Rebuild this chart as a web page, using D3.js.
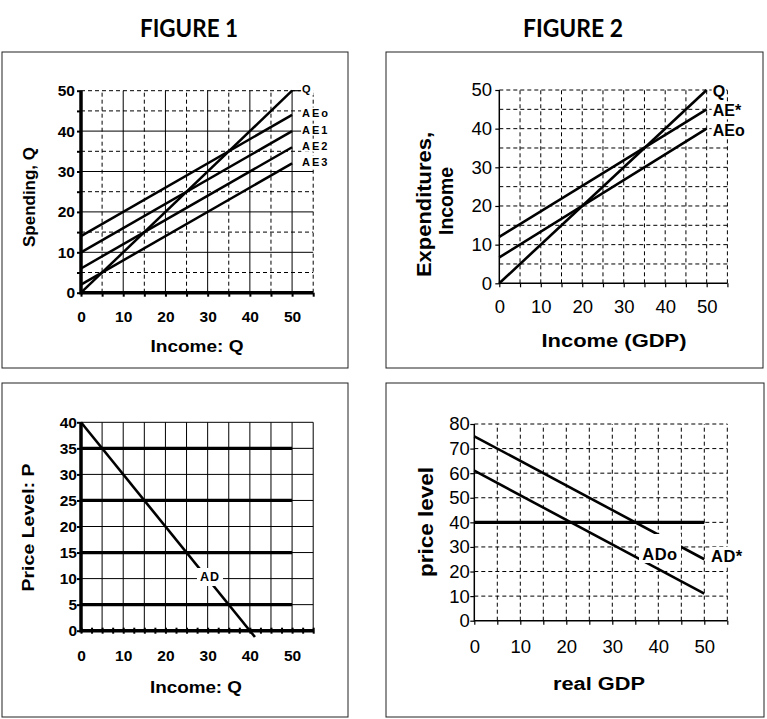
<!DOCTYPE html>
<html><head><meta charset="utf-8">
<script src="https://cdn.jsdelivr.net/npm/d3@7"></script>
<style>
body{margin:0;background:#fff}
svg{display:block}
</style></head><body>
<svg id="c" width="767" height="719"></svg>
<script>
// ---------- DATA ----------
const fig1Names = ["Q", "AEo", "AE1", "AE2", "AE3"];
const fig1AtZero = [0, 14, 10, 6, 2];
const fig1AtFifty = [50, 44, 40, 36, 32];
const fig1XTicks = [0, 10, 20, 30, 40, 50];
const fig1YTicks = [0, 10, 20, 30, 40, 50];

const fig2Names = ["Q", "AE*", "AEo"];
const fig2AtZero = [0, 12, 6.7];
const fig2AtFifty = [50, 45, 40];
const fig2XTicks = [0, 10, 20, 30, 40, 50];
const fig2YTicks = [0, 10, 20, 30, 40, 50];

const fig3AdX = [0, 41.2];
const fig3AdY = [40, -1.2];
const fig3PriceLevels = [35, 25, 15, 5];
const fig3XTicks = [0, 10, 20, 30, 40, 50];
const fig3YTicks = [0, 5, 10, 15, 20, 25, 30, 35, 40];

const fig4Names = ["AD*", "ADo"];
const fig4AtZero = [75, 61];
const fig4AtFifty = [25, 11];
const fig4PriceLevel = [40];
const fig4XTicks = [0, 10, 20, 30, 40, 50];
const fig4YTicks = [0, 10, 20, 30, 40, 50, 60, 70, 80];

// ---------- DRAWING ----------
const FONT = "'Liberation Sans', Arial, sans-serif";
const svg = d3.select("#c");
svg.append("rect").attr("width", 767).attr("height", 719).attr("fill", "#fff");

function range(a, b, s) { const r = []; for (let v = a; v <= b + 1e-9; v += s) r.push(+v.toFixed(3)); return r; }

function panel(o) {
  const g = svg.append("g");
  g.append("rect").attr("x", o.box[0]).attr("y", o.box[1]).attr("width", o.box[2]).attr("height", o.box[3])
    .attr("fill", "none").attr("stroke", "#222").attr("stroke-width", 1);
  const x = d3.scaleLinear().domain([0, 55]).range(o.xr);
  const y = d3.scaleLinear().domain([0, o.ymax]).range(o.yr);
  const grid = g.append("g");
  o.vgrid.forEach(([vals, dashed]) => vals.forEach(v => grid.append("line")
    .attr("x1", x(v)).attr("x2", x(v)).attr("y1", y(0)).attr("y2", y(o.ymax))
    .attr("stroke", "#000").attr("stroke-width", 1).attr("stroke-dasharray", dashed ? "4,3" : null)));
  o.hgrid.forEach(([vals, dashed]) => vals.forEach(v => grid.append("line")
    .attr("x1", x(0)).attr("x2", x(55)).attr("y1", y(v)).attr("y2", y(v))
    .attr("stroke", "#000").attr("stroke-width", 1).attr("stroke-dasharray", dashed ? "4,3" : null)));

  const xt = g.append("g").attr("transform", `translate(0,${y(0) - (o.xCross ? o.xTickLen : 0)})`)
    .call(d3.axisBottom(x).tickValues(o.xMinor).tickSize(o.xCross ? o.xTickLen * 2 : o.xTickLen).tickSizeOuter(0).tickFormat(""));
  xt.select(".domain").remove();
  xt.selectAll("line").attr("stroke", "#000").attr("stroke-width", o.tickW);
  const yt = g.append("g").attr("transform", `translate(${x(0)},0)`)
    .call(d3.axisLeft(y).tickValues(o.yMinor).tickSize(o.yTickLen).tickSizeOuter(0).tickFormat(""));
  yt.select(".domain").remove();
  yt.selectAll("line").attr("stroke", "#000").attr("stroke-width", o.tickW);

  g.append("line").attr("x1", x(0)).attr("x2", x(55)).attr("y1", y(0)).attr("y2", y(0)).attr("stroke", "#000").attr("stroke-width", o.axisW);
  g.append("line").attr("x1", x(0)).attr("x2", x(0)).attr("y1", y(0) + o.axisW / 2).attr("y2", y(o.ymax)).attr("stroke", "#000").attr("stroke-width", o.axisW);

  const xl = g.append("g").attr("transform", `translate(0,${y(0)})`)
    .call(d3.axisBottom(x).tickValues(o.xTicks).tickSize(0).tickPadding(o.xPad));
  xl.select(".domain").remove();
  xl.attr("font-family", FONT).attr("font-size", o.tickFS).attr("font-weight", o.tickFW);
  xl.selectAll("text").attr("fill", "#000");
  const yl = g.append("g").attr("transform", `translate(${x(0)},0)`)
    .call(d3.axisLeft(y).tickValues(o.yTicks).tickSize(0).tickPadding(o.yPad));
  yl.select(".domain").remove();
  yl.attr("font-family", FONT).attr("font-size", o.tickFS).attr("font-weight", o.tickFW);
  yl.selectAll("text").attr("fill", "#000");
  return { g, x, y };
}

function title(txt, cx, by, len) {
  svg.append("text").attr("x", cx).attr("y", by).attr("text-anchor", "middle")
    .attr("font-family", "Lato, 'Open Sans', sans-serif").attr("font-weight", 700).attr("font-size", 25)
    .attr("textLength", len).attr("lengthAdjust", "spacingAndGlyphs").text(txt);
}
function axTitle(txt, x, y, fs, len, rot) {
  return svg.append("text").attr("text-anchor", "middle").attr("font-family", FONT)
    .attr("font-weight", 700).attr("font-size", fs).attr("textLength", len).attr("lengthAdjust", "spacingAndGlyphs")
    .attr("transform", `translate(${x},${y})` + (rot ? " rotate(-90)" : "")).text(txt);
}
function label(g, txt, x, y, fs, anchor, ls, pad, box) {
  const t = g.append("text").attr("x", x).attr("y", y).attr("text-anchor", anchor || "start")
    .attr("dominant-baseline", "central").attr("font-family", FONT).attr("font-weight", 700)
    .attr("font-size", fs).attr("letter-spacing", ls || 0).text(txt);
  const b = t.node().getBBox();
  const p = pad || [1, 0];
  const r = box || [b.x - p[0], b.y - p[1], b.width + 2 * p[0], b.height + 2 * p[1]];
  g.insert("rect", () => t.node()).attr("x", r[0]).attr("y", r[1]).attr("width", r[2]).attr("height", r[3]).attr("fill", "#fff");
  return t;
}

title("FIGURE 1", 189, 36.5, 98);
title("FIGURE 2", 573, 36.5, 100);

// ---------- Panel 1 ----------
{
  const p = panel({
    box: [2, 52, 346, 316], xr: [81, 313.2], yr: [292.7, 90.7], ymax: 50,
    vgrid: [[[10, 20, 30, 40, 50], false], [[5, 15, 25, 35, 45, 55], true]],
    hgrid: [[[10, 20, 30, 40], false], [[5, 15, 25, 35, 45, 50], true]],
    xMinor: range(0, 55, 5), yMinor: range(0, 50, 5), xTickLen: 4, yTickLen: 4, tickW: 2, axisW: 3.5,
    xTicks: fig1XTicks, yTicks: fig1YTicks, xPad: 18.3, yPad: 6, tickFS: 15.5, tickFW: 700
  });
  const line = d3.line().x(d => p.x(d[0])).y(d => p.y(d[1]));
  fig1Names.forEach((n, i) => {
    p.g.append("path").attr("d", line([[0, fig1AtZero[i]], [50, fig1AtFifty[i]]]))
      .attr("fill", "none").attr("stroke", "#000").attr("stroke-width", 2.5);
  });
  p.g.append("line").attr("x1", p.x(50)).attr("x2", p.x(52)).attr("y1", p.y(50)).attr("y2", p.y(50)).attr("stroke", "#000").attr("stroke-width", 1.2);
  fig1Names.forEach((n, i) => label(p.g, n, p.x(50) + 10, p.y(fig1AtFifty[i]) - 1.5, 11, "start", 2, [1, 0]));
  axTitle("Spending, Q", 35, 197, 16.5, 100, true);
  axTitle("Income: Q", 197, 352, 16.5, 93, false);
}

// ---------- Panel 2 ----------
{
  const p = panel({
    box: [386, 52, 377, 316], xr: [499.3, 727.4], yr: [283.3, 90], ymax: 50,
    vgrid: [[range(5, 55, 5), true]], hgrid: [[range(5, 50, 5), true]],
    xMinor: range(0, 55, 5), yMinor: range(0, 50, 10), xTickLen: 4, yTickLen: 4, tickW: 1.2, axisW: 1.5,
    xTicks: fig2XTicks, yTicks: fig2YTicks, xPad: 17, yPad: 7.3, tickFS: 18.5, tickFW: 400
  });
  const line = d3.line().x(d => p.x(d[0])).y(d => p.y(d[1]));
  fig2Names.forEach((n, i) => {
    p.g.append("path").attr("d", line([[0, fig2AtZero[i]], [50, fig2AtFifty[i]]]))
      .attr("fill", "none").attr("stroke", "#000").attr("stroke-width", 2.6);
  });
  fig2Names.forEach((n, i) => label(p.g, n, p.x(50) + 6, p.y(fig2AtFifty[i]) + 1.5, 16, "start", 0, [1, 0]));
  axTitle("Expenditures,", 431, 204.5, 20, 145, true);
  axTitle("Income", 453, 201, 20, 68, true);
  axTitle("Income (GDP)", 614, 347, 18, 145, false);
}

// ---------- Panel 3 ----------
{
  const p = panel({
    box: [2, 383, 346, 334], xr: [81, 313.2], yr: [630.7, 422.3], ymax: 40,
    vgrid: [[range(5, 55, 5), false]], hgrid: [[range(5, 40, 5), false]],
    xMinor: range(0, 55, 2.5), yMinor: range(0, 40, 5), xTickLen: 3, xCross: true, yTickLen: 4, tickW: 2, axisW: 3.5,
    xTicks: fig3XTicks, yTicks: fig3YTicks, xPad: 19.5, yPad: 4, tickFS: 15.5, tickFW: 700
  });
  fig3PriceLevels.forEach(v => p.g.append("line").attr("x1", p.x(0)).attr("x2", p.x(50))
    .attr("y1", p.y(v)).attr("y2", p.y(v)).attr("stroke", "#000").attr("stroke-width", 3.2));
  const line = d3.line().x(d => p.x(d[0])).y(d => p.y(d[1]));
  p.g.append("path").attr("d", line(fig3AdX.map((v, i) => [v, fig3AdY[i]])))
    .attr("fill", "none").attr("stroke", "#000").attr("stroke-width", 2.6);
  label(p.g, "AD", 210, 577, 12.5, "middle", 1, [3, 2]);
  axTitle("Price Level: P", 34, 527.5, 17, 128, true);
  axTitle("Income: Q", 196, 693, 16.5, 92, false);
}

// ---------- Panel 4 ----------
{
  const p = panel({
    box: [386, 383, 378, 334], xr: [474.3, 727.3], yr: [620.7, 424], ymax: 80,
    vgrid: [[range(5, 55, 5), true]], hgrid: [[range(10, 80, 10), true]],
    xMinor: range(0, 55, 5), yMinor: range(0, 80, 10), xTickLen: 4, yTickLen: 4, tickW: 1.2, axisW: 1.5,
    xTicks: fig4XTicks, yTicks: fig4YTicks, xPad: 19.2, yPad: 4.5, tickFS: 18.5, tickFW: 400
  });
  fig4PriceLevel.forEach(v => p.g.append("line").attr("x1", p.x(0)).attr("x2", p.x(50))
    .attr("y1", p.y(v)).attr("y2", p.y(v)).attr("stroke", "#000").attr("stroke-width", 3.2));
  const line = d3.line().x(d => p.x(d[0])).y(d => p.y(d[1]));
  fig4Names.forEach((n, i) => {
    p.g.append("path").attr("d", line([[0, fig4AtZero[i]], [50, fig4AtFifty[i]]]))
      .attr("fill", "none").attr("stroke", "#000").attr("stroke-width", 2.6);
  });
  label(p.g, "ADo", 660, 554, 16.5, "middle", 0.5, null, [639, 534, 42, 29]);
  label(p.g, "AD*", 711, 556, 16.5, "start", 0.5, [1, 0]);
  axTitle("price level", 433, 522, 20, 110, true);
  axTitle("real GDP", 599, 690, 18, 92, false);
}
</script>
</body></html>
